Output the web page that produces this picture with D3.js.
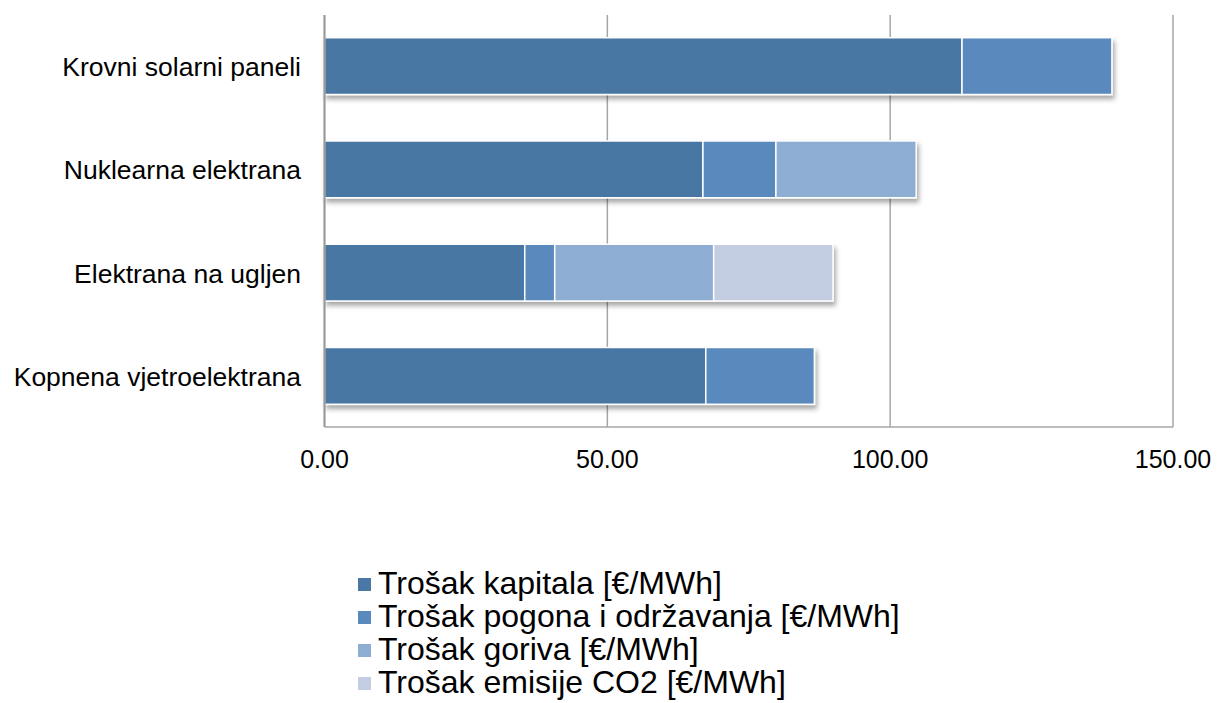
<!DOCTYPE html>
<html>
<head>
<meta charset="utf-8">
<script src="https://cdn.jsdelivr.net/npm/d3@7"></script>
<style>
    body { margin: 0; background: #fff; }
    svg { display: block; font-family: "Liberation Sans", Arial, sans-serif; }
</style>
</head>
<body>
<div id="chart"></div>
<script>
// 数据
const categories = ["Krovni solarni paneli", "Nuklearna elektrana", "Elektrana na ugljen", "Kopnena vjetroelektrana"];
const seriesNames = ["Trošak kapitala [€/MWh]", "Trošak pogona i održavanja [€/MWh]", "Trošak goriva [€/MWh]", "Trošak emisije CO2 [€/MWh]"];
const kapital = [112.7, 66.9, 35.4, 67.4];
const pogon = [26.5, 12.9, 5.3, 19.2];
const gorivo = [0, 24.8, 28.1, 0];
const emisije = [0, 0, 21.1, 0];
const xTicks = [0, 50, 100, 150];
const colors = ["#4a77a4", "#5a8abd", "#8eadd2", "#c2cde2"];

const width = 1217, height = 703;
const margin = { top: 15, left: 324.5, right: 44, bottom: 276 };

const svg = d3.select("#chart").append("svg")
    .attr("width", width)
    .attr("height", height);

// 阴影
const defs = svg.append("defs");
const shadow = defs.append("filter").attr("id", "shadow")
    .attr("x", "-5%").attr("y", "-20%").attr("width", "115%").attr("height", "160%");
shadow.append("feDropShadow")
    .attr("dx", 2).attr("dy", 4).attr("stdDeviation", 2.5)
    .attr("flood-color", "#000").attr("flood-opacity", 0.35);

const x = d3.scaleLinear().domain([0, 150]).range([margin.left, width - margin.right]);
const y = d3.scaleBand().domain(categories)
    .range([margin.top, height - margin.bottom])
    .paddingInner(0.45).paddingOuter(0.22);

// 网格线
svg.append("g").selectAll("line")
    .data(xTicks.slice(1))
    .enter().append("line")
    .attr("x1", d => x(d)).attr("x2", d => x(d))
    .attr("y1", margin.top).attr("y2", height - margin.bottom)
    .attr("stroke", "#a6a6a6").attr("stroke-width", 1.5);

// 堆叠数据
const rows = categories.map((c, i) => ({
    cat: c, k: kapital[i], p: pogon[i], g: gorivo[i], e: emisije[i]
}));
const stack = d3.stack().keys(["k", "p", "g", "e"])(rows);

const barGroups = svg.append("g").selectAll("g")
    .data(categories)
    .enter().append("g")
    .attr("filter", "url(#shadow)");

barGroups.each(function(cat, i) {
    const g = d3.select(this);
    stack.forEach((layer, li) => {
        const seg = layer[i];
        if (seg[1] - seg[0] <= 0) return;
        g.append("rect")
            .attr("x", x(seg[0]))
            .attr("y", y(cat))
            .attr("width", x(seg[1]) - x(seg[0]))
            .attr("height", y.bandwidth())
            .attr("fill", colors[li])
            .attr("stroke", "#fff")
            .attr("stroke-width", 1.5);
    });
});

// 坐标轴线
svg.append("line")
    .attr("x1", margin.left).attr("x2", margin.left)
    .attr("y1", margin.top).attr("y2", height - margin.bottom)
    .attr("stroke", "#999").attr("stroke-width", 2.2);
svg.append("line")
    .attr("x1", margin.left).attr("x2", width - margin.right)
    .attr("y1", height - margin.bottom).attr("y2", height - margin.bottom)
    .attr("stroke", "#a6a6a6").attr("stroke-width", 1.5);

// 刻度标签
svg.append("g").selectAll("text")
    .data(xTicks)
    .enter().append("text")
    .attr("x", d => x(d))
    .attr("y", 468)
    .attr("text-anchor", "middle")
    .attr("font-size", 25)
    .attr("fill", "#000")
    .text(d => d3.format(".2f")(d));

// 类别标签
svg.append("g").selectAll("text")
    .data(categories)
    .enter().append("text")
    .attr("x", 301)
    .attr("y", d => y(d) + y.bandwidth() / 2 + 10)
    .attr("text-anchor", "end")
    .attr("font-size", 26.5)
    .attr("fill", "#000")
    .text(d => d);

// 图例
const legend = svg.append("g").selectAll("g")
    .data(seriesNames)
    .enter().append("g")
    .attr("transform", (d, i) => `translate(358, ${594 + i * 33})`);
legend.append("rect")
    .attr("x", 0).attr("y", -16)
    .attr("width", 13).attr("height", 13)
    .attr("fill", (d, i) => colors[i]);
legend.append("text")
    .attr("x", 20).attr("y", 0)
    .attr("font-size", 32)
    .attr("fill", "#000")
    .text(d => d);
</script>
</body>
</html>
